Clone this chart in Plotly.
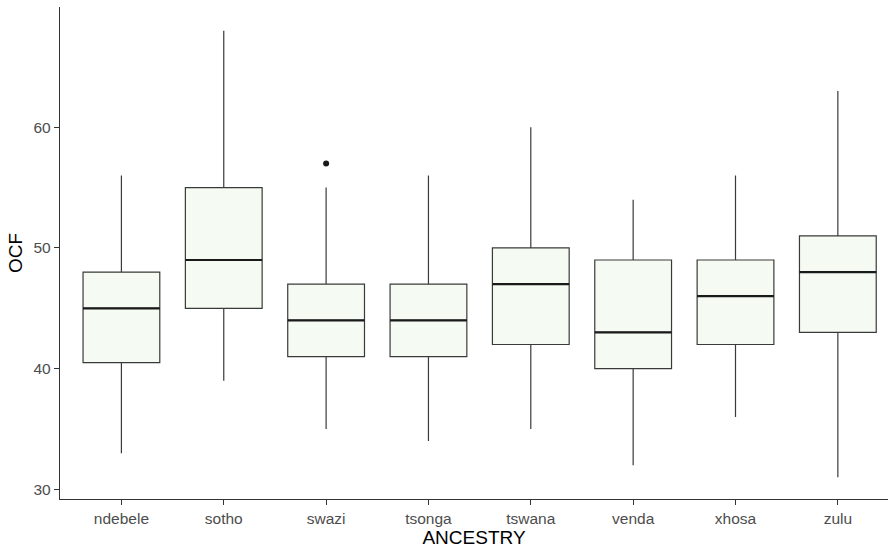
import plotly.graph_objects as go

categories = ["ndebele", "sotho", "swazi", "tsonga", "tswana", "venda", "xhosa", "zulu"]
lower_whisker = [33, 39, 35, 34, 35, 32, 36, 31]
q1_values = [40.5, 45, 41, 41, 42, 40, 42, 43]
median_values = [45, 49, 44, 44, 47, 43, 46, 48]
q3_values = [48, 55, 47, 47, 50, 49, 49, 51]
upper_whisker = [56, 68, 55, 56, 60, 54, 56, 63]
outlier_category = ["swazi"]
outlier_values = [57]
y_ticks = [30, 40, 50, 60]

FILL = "#F5FAF3"
LINE = "#3A3A3A"
AXIS = "#333333"
FONT = "Arial, 'Liberation Sans', sans-serif"

fig = go.Figure()

fig.add_trace(go.Box(
    x=categories,
    q1=q1_values, median=median_values, q3=q3_values,
    lowerfence=lower_whisker, upperfence=upper_whisker,
    fillcolor=FILL,
    line=dict(color=LINE, width=1.2),
    whiskerwidth=0,
    width=0.75,
    boxpoints=False,
    hoverinfo="skip",
    showlegend=False,
))

# thicker median line (ggplot fatten = 2), drawn as degenerate box
fig.add_trace(go.Box(
    x=categories,
    q1=median_values, median=median_values, q3=median_values,
    lowerfence=median_values, upperfence=median_values,
    fillcolor="rgba(0,0,0,0)",
    line=dict(color="#1A1A1A", width=2.2),
    whiskerwidth=0,
    width=0.75,
    boxpoints=False,
    hoverinfo="skip",
    showlegend=False,
))

fig.add_trace(go.Scatter(
    x=outlier_category, y=outlier_values,
    mode="markers",
    marker=dict(color="#1A1A1A", size=6),
    showlegend=False,
    hoverinfo="skip",
))

fig.update_layout(
    width=888, height=551,
    margin=dict(l=60, r=0, t=7, b=52),
    paper_bgcolor="white",
    plot_bgcolor="white",
    font=dict(family=FONT, size=15.5, color="#4D4D4D"),
    showlegend=False,
    boxmode="overlay",
)

fig.update_xaxes(
    type="category",
    categoryorder="array", categoryarray=categories,
    range=[-0.6, 7.49],
    showline=True, linecolor=AXIS, linewidth=1.3,
    ticks="outside", ticklen=5, tickcolor=AXIS, tickwidth=1.3,
    showgrid=False, zeroline=False,
    tickfont=dict(family=FONT, size=15.5, color="#4D4D4D"),
    title=dict(text="ANCESTRY", font=dict(family=FONT, size=19, color="#000000"), standoff=4),
)

fig.update_yaxes(
    range=[29.2, 69.96],
    tickvals=y_ticks,
    showline=True, linecolor=AXIS, linewidth=1.3,
    ticks="outside", ticklen=5, tickcolor=AXIS, tickwidth=1.3,
    showgrid=False, zeroline=False,
    tickfont=dict(family=FONT, size=15.5, color="#4D4D4D"),
    title=dict(text="OCF", font=dict(family=FONT, size=19, color="#000000"), standoff=5),
)

fig.write_html("out.html")
